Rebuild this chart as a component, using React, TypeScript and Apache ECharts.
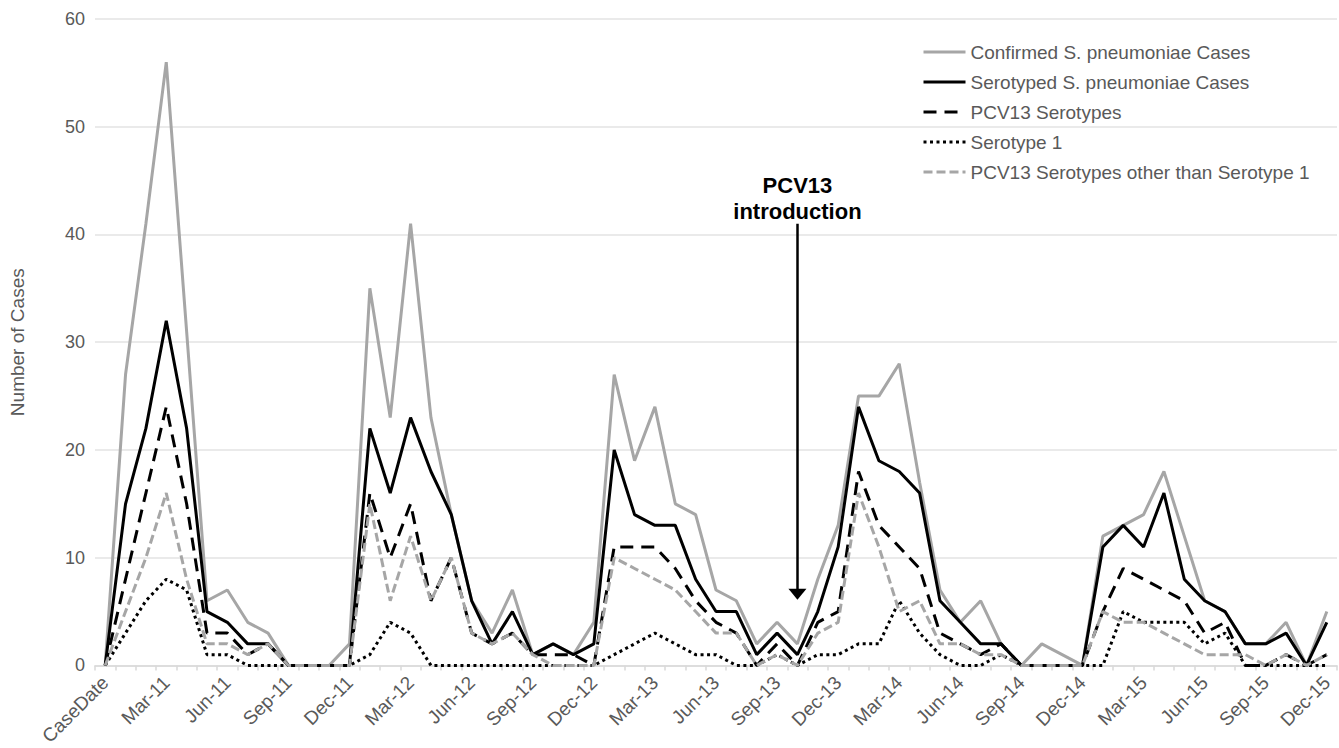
import React, { useEffect, useRef } from "react";
import * as echarts from "echarts";

const categories = [
  "CaseDate",
  "Jan-11", "Feb-11", "Mar-11", "Apr-11", "May-11", "Jun-11", "Jul-11", "Aug-11", "Sep-11", "Oct-11", "Nov-11", "Dec-11",
  "Jan-12", "Feb-12", "Mar-12", "Apr-12", "May-12", "Jun-12", "Jul-12", "Aug-12", "Sep-12", "Oct-12", "Nov-12", "Dec-12",
  "Jan-13", "Feb-13", "Mar-13", "Apr-13", "May-13", "Jun-13", "Jul-13", "Aug-13", "Sep-13", "Oct-13", "Nov-13", "Dec-13",
  "Jan-14", "Feb-14", "Mar-14", "Apr-14", "May-14", "Jun-14", "Jul-14", "Aug-14", "Sep-14", "Oct-14", "Nov-14", "Dec-14",
  "Jan-15", "Feb-15", "Mar-15", "Apr-15", "May-15", "Jun-15", "Jul-15", "Aug-15", "Sep-15", "Oct-15", "Nov-15", "Dec-15",
];

const confirmed = [
  0, 27, 41, 56, 31, 6, 7, 4, 3, 0, 0, 0, 2,
  35, 23, 41, 23, 14, 6, 3, 7, 1, 2, 1, 4,
  27, 19, 24, 15, 14, 7, 6, 2, 4, 2, 8, 13,
  25, 25, 28, 17, 7, 4, 6, 2, 0, 2, 1, 0,
  12, 13, 14, 18, 12, 6, 5, 2, 2, 4, 0, 5,
];

const serotyped = [
  0, 15, 22, 32, 22, 5, 4, 2, 2, 0, 0, 0, 0,
  22, 16, 23, 18, 14, 6, 2, 5, 1, 2, 1, 2,
  20, 14, 13, 13, 8, 5, 5, 1, 3, 1, 5, 11,
  24, 19, 18, 16, 6, 4, 2, 2, 0, 0, 0, 0,
  11, 13, 11, 16, 8, 6, 5, 2, 2, 3, 0, 4,
];

const pcv13 = [
  0, 8, 16, 24, 15, 3, 3, 1, 2, 0, 0, 0, 0,
  16, 10, 15, 6, 10, 3, 2, 3, 1, 1, 1, 0,
  11, 11, 11, 9, 6, 4, 3, 0, 2, 0, 4, 5,
  18, 13, 11, 9, 3, 2, 1, 2, 0, 0, 0, 0,
  5, 9, 8, 7, 6, 3, 4, 0, 0, 1, 0, 1,
];

const serotype1 = [
  0, 3, 6, 8, 7, 1, 1, 0, 0, 0, 0, 0, 0,
  1, 4, 3, 0, 0, 0, 0, 0, 0, 0, 0, 0,
  1, 2, 3, 2, 1, 1, 0, 0, 1, 0, 1, 1,
  2, 2, 6, 3, 1, 0, 0, 1, 0, 0, 0, 0,
  0, 5, 4, 4, 4, 2, 3, 0, 0, 0, 0, 0,
];

const pcv13Other = [
  0, 5, 10, 16, 8, 2, 2, 1, 2, 0, 0, 0, 0,
  15, 6, 12, 6, 10, 3, 2, 3, 1, 0, 0, 0,
  10, 9, 8, 7, 5, 3, 3, 0, 1, 0, 3, 4,
  16, 11, 5, 6, 2, 2, 1, 1, 0, 0, 0, 0,
  5, 4, 4, 3, 2, 1, 1, 1, 0, 1, 0, 1,
];

const seriesNames = [
  "Confirmed S. pneumoniae Cases",
  "Serotyped S. pneumoniae Cases",
  "PCV13 Serotypes",
  "Serotype 1",
  "PCV13 Serotypes other than Serotype 1",
];

const yTicks = [0, 10, 20, 30, 40, 50, 60];
const annotationText = "PCV13\nintroduction";
const annotationCategory = "Oct-13";
const annotationTop = 41;
const annotationBottom = 6.6;

const FONT = "'Liberation Sans', Arial, sans-serif";
const LABEL = "#595959";

export default function App() {
  const ref = useRef<HTMLDivElement>(null);
  useEffect(() => {
    if (!ref.current) return;
    const chart = echarts.init(ref.current, null, { renderer: "svg" });
    const mk = (name: string, data: number[], color: string, type: any) => ({
      name,
      type: "line",
      data,
      symbol: "none",
      showSymbol: false,
      silent: true,
      emphasis: { disabled: true },
      lineStyle: { color, width: 3, type },
      itemStyle: { color },
    });
    const s0: any = mk(seriesNames[0], confirmed, "#a6a6a6", "solid");
    s0.markLine = {
      silent: true,
      symbol: ["none", "triangle"],
      symbolSize: [18, 11],
      lineStyle: { color: "#000", width: 2.5, type: "solid" },
      label: {
        show: true,
        position: "start",
        distance: -1,
        formatter: annotationText,
        color: "#000",
        fontWeight: "bold",
        fontSize: 22,
        lineHeight: 26,
        fontFamily: FONT,
      },
      data: [[{ coord: [annotationCategory, annotationTop] }, { coord: [annotationCategory, annotationBottom] }]],
    };
    chart.setOption({
      animation: false,
      textStyle: { fontFamily: FONT },
      grid: { left: 95, right: 2, top: 19, bottom: 78, containLabel: false },
      legend: {
        orient: "vertical",
        left: 922,
        top: 42,
        padding: 0,
        itemWidth: 42,
        itemHeight: 14,
        itemGap: 10,
        itemStyle: { opacity: 0 },
        lineStyle: { width: 3 },
        textStyle: { color: LABEL, fontSize: 19, lineHeight: 20, fontFamily: FONT },
        data: seriesNames,
        selectedMode: false,
      },
      xAxis: {
        type: "category",
        data: categories,
        boundaryGap: true,
        axisLine: { lineStyle: { color: "#d9d9d9", width: 1.5 } },
        axisTick: { show: true, interval: 0, length: 5, lineStyle: { color: "#d9d9d9", width: 1.5 } },
        axisLabel: { interval: 2, rotate: 45, color: LABEL, fontSize: 19, margin: 14, fontFamily: FONT },
        splitLine: { show: false },
      },
      yAxis: {
        type: "value",
        min: yTicks[0],
        max: yTicks[yTicks.length - 1],
        interval: 10,
        name: "Number of Cases",
        nameLocation: "middle",
        nameGap: 68,
        nameTextStyle: { color: LABEL, fontSize: 19, fontFamily: FONT },
        axisLine: { show: false },
        axisTick: { show: false },
        axisLabel: { color: LABEL, fontSize: 18, margin: 10, fontFamily: FONT },
        splitLine: { lineStyle: { color: "#e3e3e3", width: 1.5 } },
      },
      series: [
        s0,
        mk(seriesNames[1], serotyped, "#000000", "solid"),
        mk(seriesNames[2], pcv13, "#000000", [13, 8]),
        mk(seriesNames[3], serotype1, "#000000", [3, 3.5]),
        mk(seriesNames[4], pcv13Other, "#a6a6a6", [9, 4]),
      ],
    });
    return () => chart.dispose();
  }, []);
  return <div ref={ref} style={{ width: 1339, height: 748, position: "absolute", left: 0, top: 0, background: "#fff" }} />;
}
